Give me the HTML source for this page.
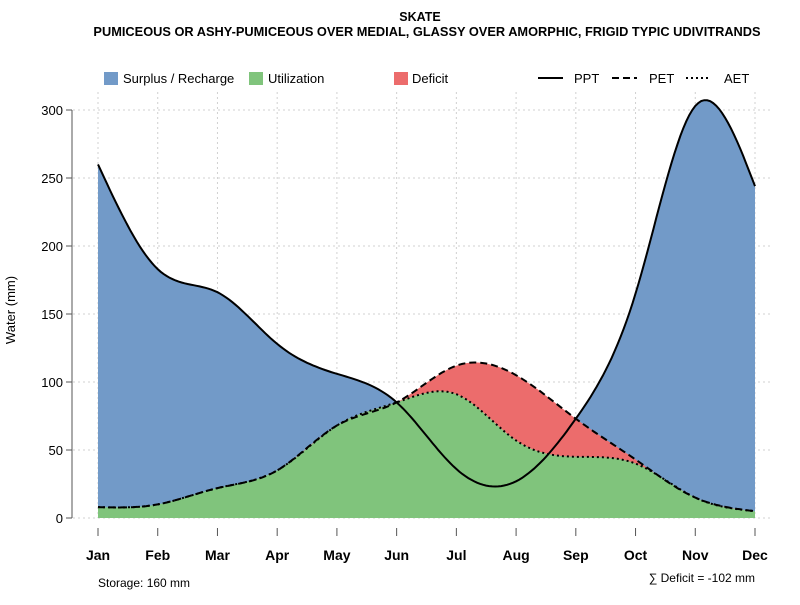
<!DOCTYPE html>
<html><head><meta charset="utf-8"><style>
body{margin:0;background:#fff;font-family:"Liberation Sans",sans-serif}
svg text{font-family:"Liberation Sans",sans-serif}
</style></head><body>
<svg id="c" width="800" height="600" xmlns="http://www.w3.org/2000/svg">
<text x="420" y="21" text-anchor="middle" font-size="12.5" font-weight="bold">SKATE</text>
<text x="427" y="36" text-anchor="middle" font-size="12.8" font-weight="bold">PUMICEOUS OR ASHY-PUMICEOUS OVER MEDIAL, GLASSY OVER AMORPHIC, FRIGID TYPIC UDIVITRANDS</text>
<g id="grid"></g>
<g id="fills"></g>
<g id="lines"></g>
<g id="axes"></g>
<g font-size="13">
<rect x="104" y="72" width="14" height="13" fill="#729ac8"/>
<text x="123" y="83">Surplus / Recharge</text>
<rect x="249" y="72" width="14" height="13" fill="#80c47c"/>
<text x="268" y="83">Utilization</text>
<rect x="394" y="72" width="14" height="13" fill="#ec6c6c"/>
<text x="412" y="83">Deficit</text>
<line x1="538" y1="78" x2="563" y2="78" stroke="#000" stroke-width="2"/>
<text x="574" y="83">PPT</text>
<line x1="612" y1="78" x2="637" y2="78" stroke="#000" stroke-width="2" stroke-dasharray="7,4"/>
<text x="649" y="83">PET</text>
<line x1="686" y1="78" x2="711" y2="78" stroke="#000" stroke-width="2" stroke-dasharray="2,3"/>
<text x="724" y="83">AET</text>
</g>
<text x="15" y="310" font-size="13" text-anchor="middle" transform="rotate(-90 15 310)">Water (mm)</text>
<text x="98" y="587" font-size="12">Storage: 160 mm</text>
<text x="755" y="582" font-size="12" text-anchor="end">∑ Deficit = -102 mm</text>
</svg>
<script>
const months=["Jan","Feb","Mar","Apr","May","Jun","Jul","Aug","Sep","Oct","Nov","Dec"];
const ppt=[260,183,166,128,106,85,36,27,73,165,303,244];
const pet=[8,10,22,35,68,85,112,105,73,43,15,5];
const aet=[8,10,22,35,68,85,91,57,45,40,15,5];
const yTicks=[0,50,100,150,200,250,300];
const NS="http://www.w3.org/2000/svg";
function X(i){return 98+i*(755-98)/11}
function Y(v){return 518-v*(408/300)}
function mk(p,tag,at){const e=document.createElementNS(NS,tag);for(const k in at)e.setAttribute(k,at[k]);p.appendChild(e);return e}
function spline(ys){const n=ys.length,m=new Array(n).fill(0);
 const a=[],b=[],c=[],d=[];
 for(let i=1;i<n-1;i++){a[i]=1;b[i]=4;c[i]=1;d[i]=6*(ys[i+1]-2*ys[i]+ys[i-1]);}
 for(let i=2;i<n-1;i++){const w=a[i]/b[i-1];b[i]-=w*c[i-1];d[i]-=w*d[i-1];}
 for(let i=n-2;i>=1;i--){m[i]=(d[i]-(i<n-2?c[i]*m[i+1]:0))/b[i];}
 const pts=[];
 for(let i=0;i<n-1;i++)for(let k=0;k<20;k++){const t=k/20;
  const v=(1-t)*ys[i]+t*ys[i+1]+((Math.pow(1-t,3)-(1-t))*m[i]+(t*t*t-t)*m[i+1])/6;
  pts.push([i+t,v]);}
 pts.push([n-1,ys[n-1]]);return pts}
const P=spline(ppt),E=spline(pet),A=spline(aet);
const g=document.getElementById('grid'),f=document.getElementById('fills'),l=document.getElementById('lines'),ax=document.getElementById('axes');
yTicks.forEach(t=>{const e=mk(g,'line',{x1:73,x2:770,y1:Y(t),y2:Y(t),stroke:'#d0d0d0','stroke-dasharray':'2,3'});
});
months.forEach((m,i)=>{const e=mk(g,'line',{x1:X(i),x2:X(i),y1:92,y2:518,stroke:'#d0d0d0','stroke-dasharray':'2,3'});
});
const str=pts=>pts.map(p=>X(p[0]).toFixed(1)+","+Y(p[1]).toFixed(1)).join(" L");
const base="L"+X(11)+","+Y(0)+" L"+X(0)+","+Y(0)+"Z";
let e=mk(f,'path',{d:"M"+str(P)+base,fill:'#729ac8'});

e=mk(f,'path',{d:"M"+str(E)+" L"+str(A.slice().reverse())+"Z",fill:'#ec6c6c'});

e=mk(f,'path',{d:"M"+str(A)+base,fill:'#80c47c'});

e=mk(l,'path',{d:"M"+str(A),fill:'none',stroke:'#000','stroke-width':2,'stroke-dasharray':'2,3'});

e=mk(l,'path',{d:"M"+str(E),fill:'none',stroke:'#000','stroke-width':2,'stroke-dasharray':'7,4'});

e=mk(l,'path',{d:"M"+str(P),fill:'none',stroke:'#000','stroke-width':2});

e=mk(ax,'line',{x1:72,x2:72,y1:Y(300),y2:Y(0),stroke:'#555'});

yTicks.forEach(t=>{let k=mk(ax,'line',{x1:66,x2:72,y1:Y(t),y2:Y(t),stroke:'#555'});

const tx=mk(ax,'text',{x:63,y:Y(t)+5,'text-anchor':'end','font-size':13});tx.textContent=t;
});
months.forEach((m,i)=>{let k=mk(ax,'line',{x1:X(i),x2:X(i),y1:528,y2:536,stroke:'#555'});

const tx=mk(ax,'text',{x:X(i),y:560,'text-anchor':'middle','font-size':14,'font-weight':'bold'});tx.textContent=m;
});
</script>
</body></html>
